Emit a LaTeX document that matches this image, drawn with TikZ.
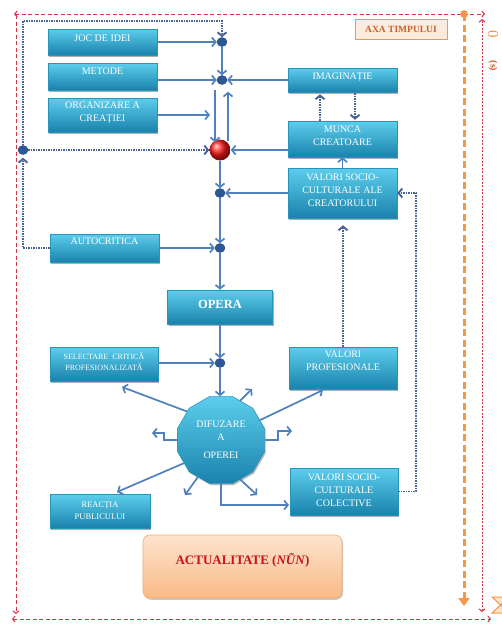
\documentclass[tikz,border=0pt]{standalone}
\usepackage{fontspec}
\setmainfont{Liberation Serif}
\usetikzlibrary{arrows.meta,shapes.geometric,shadows,calc}

\definecolor{boxtop}{RGB}{92,206,236}
\definecolor{boxbot}{RGB}{26,130,172}
\definecolor{boxline}{RGB}{40,148,190}
\definecolor{arrblue}{RGB}{79,129,189}
\definecolor{dotblue}{RGB}{72,98,150}
\definecolor{knot}{RGB}{44,88,150}
\definecolor{framered}{RGB}{212,52,72}
\definecolor{axisorange}{RGB}{247,150,70}
\definecolor{peach}{RGB}{253,236,222}
\definecolor{axabrown}{RGB}{196,98,48}
\definecolor{acttop}{RGB}{253,228,206}
\definecolor{actbot}{RGB}{250,186,134}
\definecolor{actred}{RGB}{196,20,28}

\tikzset{
  box/.style={draw=boxline, line width=0.5pt, top color=boxtop, bottom color=boxbot,
    drop shadow={shadow xshift=1.2pt, shadow yshift=-1.6pt, opacity=0.45, fill=black!70}},
  txt/.style={text=white, align=center, inner sep=0pt, font=\fontsize{10}{13}\selectfont},
  knotdot/.style={ellipse, minimum width=10pt, minimum height=9pt, inner sep=0pt,
    fill=knot, draw=knot!80!black, line width=0.4pt},
  arr/.style={draw=arrblue, line width=1.7pt,
    -{Straight Barb[length=3.8pt,width=9pt]}},
  dotln/.style={draw=dotblue, line width=1.9pt, dash pattern=on 1.4pt off 1.1pt,
    -{Straight Barb[length=3.8pt,width=9pt]}},
  redframe/.style={draw=framered, line width=1pt, dash pattern=on 4pt off 2.5pt},
  reddot/.style={draw=framered, line width=1pt, dash pattern=on 2pt off 1.5pt},
  framehead/.style={{Straight Barb[length=2.5pt,width=6pt]}-{Straight Barb[length=2.5pt,width=6pt]}},
}

\begin{document}
\begin{tikzpicture}[x=1pt,y=-1pt]
\clip (0,0) rectangle (502,624);
\fill[white] (0,0) rectangle (502,624);

% ---------- time frame ----------
\coordinate (fTL) at (14,14);
\coordinate (fTR) at (485,14);
\coordinate (fLT) at (16,15);
\coordinate (fLB) at (16,614);
\coordinate (fBL) at (12,619);
\coordinate (fBR) at (491,619);
\coordinate (fRT) at (482,19);
\coordinate (fRB) at (482,612);
\draw[redframe, framehead] (fTL) -- (fTR);
\draw[redframe, -{Straight Barb[length=2.5pt,width=6pt]}] (fLT) -- (fLB);
\draw[redframe, framehead] (fBL) -- (fBR);
\draw[reddot, framehead] (fRB) -- (fRT);

% orange time axis
\coordinate (oTop) at (464,14);
\coordinate (oBot) at (464,606);
\draw[axisorange, line width=3pt, dash pattern=on 7pt off 3.5pt,
  -{Triangle[length=8pt,width=11pt]}] (oTop) -- (oBot);
\fill[axisorange] (oTop) circle (3.8pt);
\node[rotate=-90, text=axisorange, font=\fontsize{15}{15}\selectfont] (tzero) at (493,34) {0};
\node[rotate=-90, text=axabrown, font=\bfseries\fontsize{10}{10}\selectfont] (tsec) at (493,66) {(s)};
\filldraw[draw=axisorange, fill=acttop, line width=1pt]
  (492,597) -- (509,597) -- (500.5,605) -- (509,613) -- (492,613) -- (500.5,605) -- cycle;

\node[draw=axisorange, fill=peach, line width=1pt, minimum width=92pt, minimum height=20pt,
  inner sep=0pt, text=axabrown, font=\bfseries\fontsize{9.5}{10}\selectfont] (axa) at (401,29) {AXA TIMPULUI};

% ---------- boxes ----------
\node[box, minimum width=109pt, minimum height=26pt] (joc) at (102.5,42) {};
\node[box, minimum width=109pt, minimum height=27pt] (met) at (102.5,76.5) {};
\node[box, minimum width=109pt, minimum height=34pt] (org) at (102.5,115) {};
\node[box, minimum width=109pt, minimum height=24pt] (imag) at (342.5,80) {};
\node[box, minimum width=109pt, minimum height=36pt] (munca) at (342.5,139) {};
\node[box, minimum width=109pt, minimum height=50pt] (vsc) at (342.5,193) {};
\node[box, minimum width=109pt, minimum height=28pt] (auto) at (104.5,248) {};
\node[box, minimum width=105pt, minimum height=34pt] (opera) at (220,307) {};
\node[box, minimum width=108pt, minimum height=34pt] (sel) at (104,364) {};
\node[box, minimum width=108pt, minimum height=42pt] (vprof) at (343,368) {};
\node[box, minimum width=108pt, minimum height=47pt] (vscc) at (344,491.5) {};
\node[box, minimum width=100pt, minimum height=34pt] (react) at (100,511) {};

\node[txt] (joc-t) at (102.5,38) {JOC DE IDEI};
\node[txt] (met-t) at (102.5,71) {METODE};
\node[txt] (org-t) at (102.5,113) {ORGANIZARE A\\CREAȚIEI};
\node[txt] (imag-t) at (342.5,77.5) {IMAGINAȚIE};
\node[txt] (munca-t) at (342.5,136) {MUNCA\\CREATOARE};
\node[txt] (vsc-t) at (342.5,190.5) {VALORI SOCIO-\\CULTURALE ALE\\CREATORULUI};
\node[txt] (auto-t) at (104.5,241) {AUTOCRITICA};
\node[txt, font=\bfseries\fontsize{12.5}{14}\selectfont] (opera-t) at (220,304) {OPERA};
\node[txt, font=\fontsize{8}{10.5}\selectfont] (sel-t) at (104,361.5) {SELECTARE\ \ CRITICĂ\\PROFESIONALIZATĂ};
\node[txt] (vprof-t) at (343,361) {VALORI\\PROFESIONALE};
\node[txt] (vscc-t) at (344,490) {VALORI SOCIO-\\CULTURALE\\COLECTIVE};
\node[txt, font=\fontsize{8.5}{12}\selectfont] (react-t) at (100,510.5) {REACȚIA\\PUBLICULUI};

% diffusion polygon
\node[regular polygon, regular polygon sides=12, minimum size=90pt, inner sep=0pt,
  top color=boxtop, bottom color=boxbot, draw=boxline, line width=0.5pt,
  drop shadow={shadow xshift=1.2pt, shadow yshift=-1.6pt, opacity=0.4, fill=black!70},
  txt] (dif) at (221,440) {DIFUZARE\\A\\[5pt]OPEREI};

% present time box
\node[draw=axisorange!80, line width=0.6pt, rounded corners=7pt, top color=acttop, bottom color=actbot,
  minimum width=199pt, minimum height=63pt,
  drop shadow={shadow xshift=1.2pt, shadow yshift=-1.8pt, opacity=0.35, fill=black!60}] (actual) at (242.5,566.5) {};
\node[text=actred, font=\bfseries\fontsize{13}{15}\selectfont] (actual-t) at (242.5,560) {ACTUALITATE (\textit{NŨN})};

% ---------- junction points ----------
\node[knotdot] (dot1) at (222,42) {};
\node[knotdot] (dot2) at (222,80) {};
\node[circle, minimum size=21pt, inner sep=0pt, ball color=red!90] (R) at (220,150) {};
\node[knotdot] (dot3) at (220,193) {};
\node[knotdot] (dot4) at (220,248) {};
\node[knotdot] (dot5) at (220,363) {};
\node[knotdot] (dotL) at (23,150) {};

% free ends
\coordinate (orgtip) at (210,115);
\coordinate (loopTL) at (23,21);
\coordinate (loopTR) at (222,21);
\coordinate (autoL) at (23,248);
\coordinate (rb) at (416,491.5);
\coordinate (rt) at (416,193);
\coordinate (selTip) at (122,387);
\coordinate (urTip) at (252,389);
\coordinate (vprofTip) at (323,390);
\coordinate (zr) at (292,431);
\coordinate (zl) at (152,433);
\coordinate (reactTip) at (117,492);
\coordinate (dlTip) at (185,495);
\coordinate (drTip) at (257,495);
\coordinate (vsccIn) at (289,505);

% ---------- solid connectors ----------
\draw[arr] (joc.east) -- (dot1.west);
\draw[arr] (met.east |- dot2.west) -- (dot2.west);
\draw[arr] (org.east) -- (orgtip);
\draw[arr] (dot1.south) -- (dot2.north);
\draw[arr] ([xshift=-7pt,yshift=-5pt]dot2.south) -- ([xshift=-5pt,yshift=-3pt]R.north);
\draw[arr] ([xshift=8pt,yshift=-2pt]R.north) -- ([xshift=6pt,yshift=-7pt]dot2.south);
\draw[arr] (imag.west) -- (dot2.east);
\draw[arr] (munca.west |- R.east) -- (R.east);
\draw[arr] (vsc.north) -- (munca.south);
\draw[arr] (vsc.west) -- (dot3.east);
\draw[arr] (R.south) -- (dot3.north);
\draw[arr] (dot3.south) -- (dot4.north);
\draw[arr] (auto.east |- dot4.west) -- (dot4.west);
\draw[arr] (dot4.south) -- (opera.north);
\draw[arr] (opera.south) -- (dot5.north);
\draw[arr] (sel.east |- dot5.west) -- (dot5.west);
\draw[arr] (dot5.south) -- (dot5.south |- dif.north);

% arrows leaving the diffusion
\draw[arr] (dif.140) -- (selTip);
\draw[arr] (dif.64) -- (urTip);
\draw[arr] (dif.27) -- (vprofTip);
\draw[arr] (dif.east) -- ++(13,0) |- (zr);
\draw[arr] (dif.west) -- ++(-13,0) |- (zl);
\draw[arr] (dif.212) -- (reactTip);
\draw[arr] (dif.238) -- (dlTip);
\draw[arr] (dif.296) -- (drTip);
\draw[arr] (dif.south) |- (vsccIn);

% ---------- dotted feedback connectors ----------
\draw[dotln] (dotL.north) -- (loopTL) -- (loopTR) -- (dot1.north);
\draw[dotln] (dotL.east) -- (R.west);
\draw[dotln] (auto.west) -- (autoL) -- ([yshift=-3pt]dotL.south);
\draw[dotln] ([xshift=-22.5pt]munca.north) -- ([xshift=-22.5pt,yshift=-2pt]imag.south);
\draw[dotln] ([xshift=12.5pt,yshift=-1pt]imag.south) -- ([xshift=12.5pt,yshift=1pt]munca.north);
\draw[dotln, shorten >=7pt] (vprof.north) -- (vprof.north |- vsc.south);
\draw[dotln] (vscc.east) -- (rb) -- (rt) -- (vsc.east);

\end{tikzpicture}
\end{document}
